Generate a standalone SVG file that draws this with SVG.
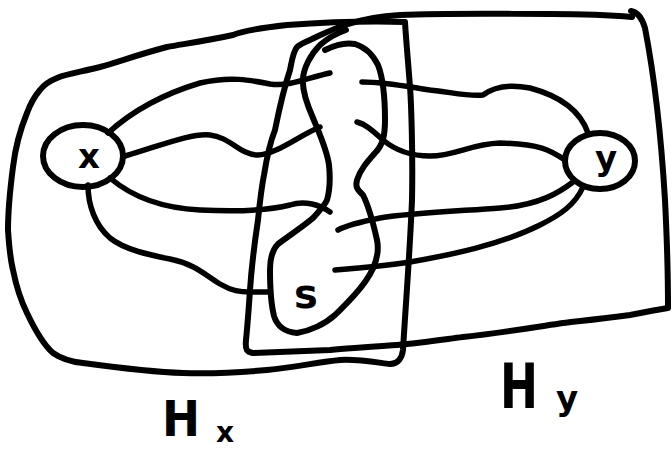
<svg xmlns="http://www.w3.org/2000/svg" width="671" height="451" viewBox="0 0 671 451">
<style>
.s{fill:none;stroke:#000;stroke-width:6;stroke-linecap:round;stroke-linejoin:round}
.e{fill:none;stroke:#000;stroke-width:5.5;stroke-linecap:round;stroke-linejoin:round}
.t{font-family:"DejaVu Sans",sans-serif;font-weight:bold;fill:#000}
</style>
<rect width="671" height="451" fill="#fff"/>
<g id="Hx">
<path class="s" d="M405,22 C370,21 330,22 287,25 C260,28 240,32 233,35 C210,40 190,43 167,47 C140,54 118,62 100,67 C80,72 66,74 57,78 C47,82 43,86 40,90 C33,98 30,105 27,113 C20,130 15,150 13,167 C10,190 8,210 8,230 C9,245 10,258 13,270 C17,290 22,303 27,313 C35,330 45,346 53,353 C63,360 73,362 83,363 C120,368 150,372 183,373 C215,374 245,372 267,370 C295,367 320,362 340,360 C360,359 380,363 390,364 C398,364 402,358 403,350 C406,300 410,250 412,200 C413,150 411,100 410,87 C408,60 406,40 405,22"/>
<text class="t" x="162" y="436" font-size="50" textLength="38" lengthAdjust="spacingAndGlyphs">H</text>
<text class="t" x="216" y="442" font-size="28">x</text>
</g>
<g id="Hy">
<path class="s" d="M253,353 C247,352 245,350 246,340 C248,320 249,305 250,290 C252,260 255,240 258,220 C260,200 262,185 264,175 C268,150 271,140 275,130 C280,105 285,85 290,70 C292,60 293,52 297,47 C300,44 305,42 312,39 C325,33 335,28 345,25 C360,20 380,16 400,15 C450,13 500,14 550,14 C590,14 610,15 632,17"/>
<path class="s" d="M631,11 C638,12 642,18 645,28 C655,80 662,150 665,200 C667,240 668,280 668,306"/>
<path class="s" d="M668,308 C655,310 640,313 630,315 C600,319 580,321 563,323 C530,328 500,333 463,337 C440,340 420,343 397,345 C370,347 350,348 330,350 C300,351 275,352 253,353"/>
<text class="t" x="500" y="408" font-size="62" textLength="38" lengthAdjust="spacingAndGlyphs">H</text>
<text class="t" x="556" y="410" font-size="34">y</text>
</g>
<g id="S">
<path class="s" d="M325,50 C335,45 345,42 355,44 C365,47 373,55 378,65 C383,78 385,100 385,120 C385,135 383,145 375,153 C367,162 360,170 357,180 C355,188 358,190 363,195 C368,205 373,222 377,240 C380,255 375,268 365,282 C355,296 345,305 335,315 C325,324 310,331 297,333 C285,332 277,326 274,316 C270,300 270,285 270,270 C270,258 272,250 278,244 C290,235 305,225 313,218 C320,210 325,205 327,200 C330,190 330,175 329,165 C327,150 320,135 313,118 C305,100 302,88 303,78 C304,68 310,55 320,45 C328,38 337,33 346,30"/>
<text class="t" x="306" y="308" font-size="40" text-anchor="middle">s</text>
</g>
<g id="x">
<ellipse class="s" cx="83" cy="156" rx="40" ry="31"/>
<text class="t" x="89" y="168" font-size="34" text-anchor="middle">x</text>
</g>
<g id="y">
<ellipse class="s" cx="600" cy="161" rx="35" ry="28"/>
<text class="t" x="606" y="170" font-size="34" text-anchor="middle">y</text>
</g>
<g id="connectors">
<path class="e" d="M108,133 C130,113 160,95 200,83 C230,76 250,80 270,84 C290,87 310,77 330,73"/>
<path class="e" d="M125,156 C160,146 190,133 210,135 C230,137 240,155 258,155 C275,155 300,135 320,127"/>
<path class="e" d="M110,178 C130,195 160,208 200,210 C240,212 270,210 290,205 C305,200 320,205 330,212"/>
<path class="e" d="M88,185 C88,205 95,225 110,238 C125,250 150,255 170,259 C195,264 205,275 220,284 C232,291 240,292 250,292 L270,292"/>
<path class="e" d="M588,133 C580,110 560,96 530,88 C510,84 495,86 483,95 C470,97 450,92 430,90 C410,87 385,82 362,82"/>
<path class="e" d="M565,160 C550,150 540,144 500,143 C470,144 455,156 430,156 C410,156 395,150 383,140 C372,130 365,124 357,122"/>
<path class="e" d="M573,182 C560,192 540,205 500,208 C460,211 410,213 380,218 C360,222 345,226 338,230"/>
<path class="e" d="M583,187 C575,205 560,215 540,225 C500,245 450,255 410,262 C385,266 360,268 335,270"/>
</g>
</svg>
